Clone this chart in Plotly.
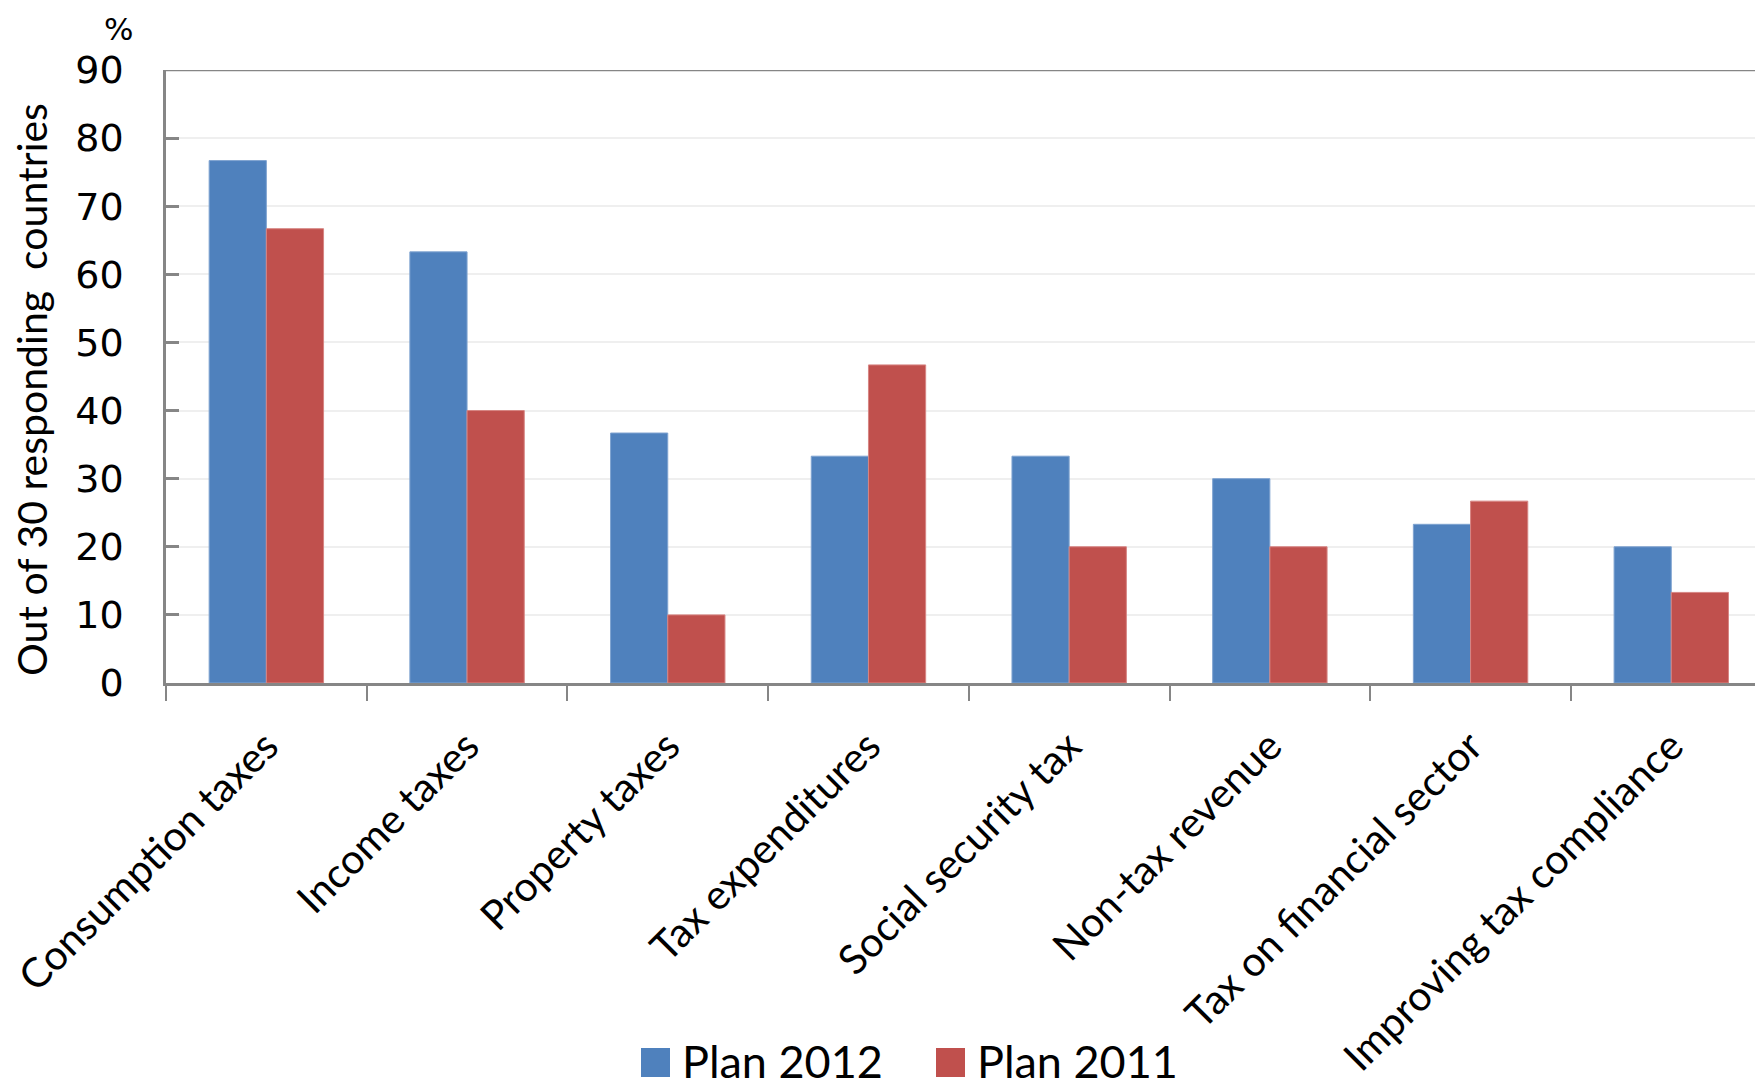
import plotly.graph_objects as go

categories = ["Consumption taxes", "Income taxes", "Property taxes", "Tax expenditures",
              "Social security tax", "Non-tax revenue", "Tax on financial sector",
              "Improving tax compliance"]
plan_2012 = [76.7, 63.3, 36.7, 33.3, 33.3, 30.0, 23.3, 20.0]
plan_2011 = [66.7, 40.0, 10.0, 46.7, 20.0, 20.0, 26.7, 13.3]
series_names = ["Plan 2012", "Plan 2011"]
y_ticks = [0, 10, 20, 30, 40, 50, 60, 70, 80, 90]

BLUE = "#4F81BD"
RED = "#C0504D"
AXIS = "#868686"
LABEL_FONT = "Lato"

fig = go.Figure()
fig.add_trace(go.Bar(x=categories, y=plan_2012, name=series_names[0],
                     marker=dict(color=BLUE, line=dict(color="#7FA3D0", width=1))))
fig.add_trace(go.Bar(x=categories, y=plan_2011, name=series_names[1],
                     marker=dict(color=RED, line=dict(color="#D78583", width=1))))

OFF = 8  # page body margin
W, H = 1763 - OFF, 1090 - OFF
L = 166 - OFF
T = 70 - OFF
BOT = 683 - OFF
B = H - BOT
fig.update_layout(
    width=W, height=H,
    margin=dict(l=L, r=0, t=T, b=B, autoexpand=False),
    paper_bgcolor="white", plot_bgcolor="white",
    barmode="group", bargap=0.43, bargroupgap=0,
    showlegend=False,
    font=dict(family=LABEL_FONT, color="black"),
)
fig.update_xaxes(
    type="category", range=[-0.5, 7.457], automargin=False,
    showline=True, linecolor=AXIS, linewidth=2.5,
    ticks="outside", tickson="boundaries", ticklen=15, tickwidth=2, tickcolor=AXIS,
    tickangle=-45, tickfont=dict(family=LABEL_FONT, size=41, color="black"),
    ticklabelstandoff=20, showgrid=False,
)
fig.update_yaxes(
    range=[0, 90], tickvals=y_ticks, automargin=False,
    showline=True, linecolor=AXIS, linewidth=2.5,
    ticks="inside", ticklen=13, tickwidth=2.5, tickcolor=AXIS,
    tickfont=dict(family="DejaVu Sans", size=38, color="black"),
    ticklabelstandoff=32,
    showgrid=True, gridcolor="#EFEFEF", gridwidth=2, zeroline=False,
)

pw, ph = W - L, BOT - T
def px(xp):
    return (xp - OFF - L) / pw
def py(yp):
    return (BOT - (yp - OFF)) / ph

# y-axis title
fig.add_annotation(text="Out of 30 responding  countries", xref="paper", yref="paper",
                   x=px(31), y=py(390), textangle=-90, showarrow=False,
                   xanchor="center", yanchor="middle",
                   font=dict(family=LABEL_FONT, size=41, color="black"))
# top frame line at 90
fig.add_shape(type="line", xref="paper", yref="y", x0=0, x1=1, y0=90, y1=90,
              line=dict(color=AXIS, width=2.5))
# % unit label
fig.add_annotation(text="%", xref="paper", yref="paper", x=px(118), y=py(29),
                   showarrow=False, font=dict(family="DejaVu Sans", size=31, color="black"),
                   xanchor="center", yanchor="middle", borderpad=0)

# manual legend
legend_items = [(series_names[0], BLUE, 641), (series_names[1], RED, 936)]
for name, col, x0 in legend_items:
    fig.add_shape(type="rect", xref="paper", yref="paper",
                  x0=px(x0), x1=px(x0 + 29), y0=py(1048), y1=py(1077),
                  fillcolor=col, line=dict(width=0))
    fig.add_annotation(text=name, xref="paper", yref="paper", x=px(x0 + 40), y=py(1061),
                       showarrow=False, xanchor="left", yanchor="middle", borderpad=0,
                       font=dict(family=LABEL_FONT, size=45, color="black"))

fig.write_html("out.html")
